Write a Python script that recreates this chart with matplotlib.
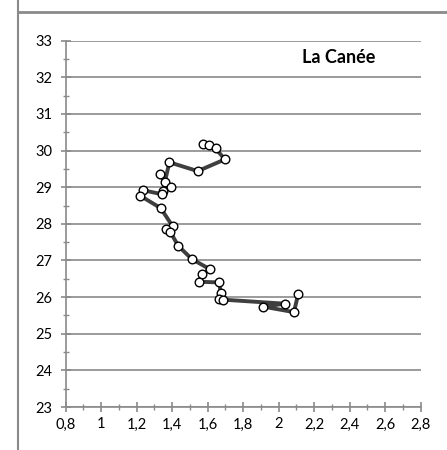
import matplotlib
matplotlib.use("Agg")
import matplotlib.pyplot as plt
from matplotlib.ticker import MultipleLocator
from matplotlib.lines import Line2D

# Data
x_vals = [1.572, 1.609, 1.644, 1.697, 1.544, 1.384, 1.359, 1.331, 1.392, 1.350,
          1.341, 1.234, 1.219, 1.335, 1.403, 1.363, 1.388, 1.434, 1.510, 1.613,
          1.566, 1.553, 1.665, 1.673, 1.665, 1.688, 2.035, 1.913, 2.086, 2.110]
y_vals = [30.19, 30.16, 30.06, 29.76, 29.44, 29.68, 29.15, 29.35, 29.01, 28.90,
          28.81, 28.92, 28.77, 28.43, 27.93, 27.85, 27.79, 27.40, 27.04, 26.76,
          26.63, 26.42, 26.40, 26.11, 25.94, 25.93, 25.82, 25.74, 25.59, 26.09]
x_ticks = [0.8, 1.0, 1.2, 1.4, 1.6, 1.8, 2.0, 2.2, 2.4, 2.6, 2.8]
x_tick_labels = ["0,8", "1", "1,2", "1,4", "1,6", "1,8", "2", "2,2", "2,4", "2,6", "2,8"]
y_ticks = [23, 24, 25, 26, 27, 28, 29, 30, 31, 32, 33]
title = "La Canée"

plt.rcParams['font.family'] = ['Lato', 'DejaVu Sans']

fig = plt.figure(figsize=(4.47, 4.50), dpi=100)
ax = fig.add_axes([65.7 / 447, 1 - 407 / 450, 355 / 447, 366.3 / 450])

grid_c = "#8a8a8a"
ax.set_xlim(0.8, 2.8)
ax.set_ylim(23, 33)
ax.set_xticks(x_ticks)
ax.set_xticklabels(x_tick_labels)
ax.set_yticks(y_ticks)
ax.set_yticklabels([str(v) for v in y_ticks])
ax.xaxis.set_minor_locator(MultipleLocator(0.1))
ax.yaxis.set_minor_locator(MultipleLocator(0.5))
ax.yaxis.grid(True, which='major', color=grid_c, linewidth=1.2)
ax.set_axisbelow(True)

for s in ['top', 'right']:
    ax.spines[s].set_visible(False)
for s in ['left', 'bottom']:
    ax.spines[s].set_color(grid_c)
    ax.spines[s].set_linewidth(1.2)

ax.tick_params(axis='both', which='major', direction='inout', length=7, width=1.2,
               color=grid_c, labelsize=10.5, labelcolor='black')
ax.tick_params(axis='both', which='minor', direction='inout', length=4.5, width=1.0,
               color=grid_c)
ax.tick_params(axis='y', which='major', pad=6)
ax.tick_params(axis='x', which='major', pad=4)

ax.plot(x_vals, y_vals, color='#3f3f3f', linewidth=2.8, marker='o',
        markersize=6.2, markerfacecolor='white', markeredgecolor='black',
        markeredgewidth=1.0, zorder=3)

ax.text(0.77, 0.954, title, transform=ax.transAxes, ha='center', va='center',
        fontsize=13, fontweight='bold')

# outer frame lines
fig.add_artist(Line2D([17.5 / 447, 17.5 / 447], [0, 1], color=grid_c, linewidth=1.5,
                      transform=fig.transFigure))
fig.add_artist(Line2D([17.5 / 447, 1], [1 - 12 / 450, 1 - 12 / 450], color=grid_c,
                      linewidth=2.0, transform=fig.transFigure))

fig.savefig("out.png", dpi=100)
